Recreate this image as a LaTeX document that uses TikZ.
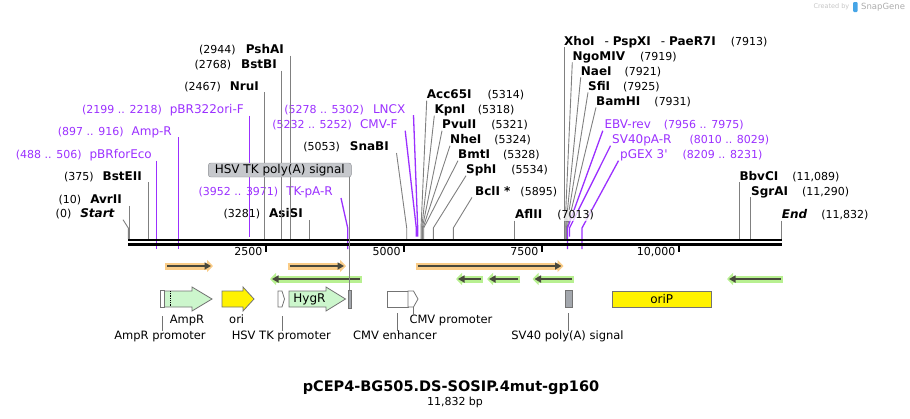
\documentclass[tikz,border=0pt]{standalone}
\usepackage{fontspec}
\setmainfont{DejaVu Sans}
\usetikzlibrary{positioning, calc, arrows.meta}

\definecolor{cPrimer}{RGB}{155,48,255}
\definecolor{cCut}{RGB}{128,128,128}
\definecolor{cFeat}{RGB}{115,115,115}
\definecolor{cGreen}{RGB}{204,246,204}
\definecolor{cTK}{RGB}{198,200,204}
\definecolor{cTKline}{RGB}{140,143,148}
\definecolor{cPolyA}{RGB}{163,167,173}
\definecolor{cOrfF}{RGB}{250,204,135}
\definecolor{cOrfR}{RGB}{184,240,145}
\definecolor{cOrfDark}{RGB}{72,72,60}
\definecolor{cSnap}{RGB}{70,165,230}

\newcommand{\nb}[1]{{\fontsize{11}{13}\selectfont(#1)}}

\tikzset{
  lab/.style={inner sep=0pt, text height=9pt, text depth=2pt},
  plab/.style={lab, text=cPrimer},
  cut/.style={draw=cCut, line width=0.9pt},
  pcut/.style={draw=cPrimer, line width=1.3pt},
  feat/.style={draw=cFeat, line width=0.8pt},
  flab/.style={inner sep=0pt, text height=8.5pt, text depth=2pt, font=\fontsize{11.5}{13}\selectfont},
  orf/.style={draw=cOrfDark, line width=2pt, -{Triangle[length=6.5pt,width=7pt]}},
  orff/.style={orf, preaction={draw=cOrfF, line width=7pt, -{Triangle[length=6pt,width=12pt]}, shorten >=-2pt, shorten <=-2pt}},
  orfr/.style={orf, preaction={draw=cOrfR, line width=7pt, -{Triangle[length=6pt,width=12pt]}, shorten >=-2pt, shorten <=-2pt}}
}

\begin{document}
\begin{tikzpicture}[x=1pt, y=-1pt, font=\fontsize{12}{14}\selectfont]
\useasboundingbox (0,0) rectangle (910,418);

\node[anchor=east, inner sep=0pt, text=gray!45, font=\fontsize{6.5}{8}\selectfont] (made) at (849.5,7) {Created by};
\fill[cSnap, rounded corners=1pt] (853,2) rectangle (857.5,12);
\node[anchor=west, inner sep=0pt, text=gray!65, font=\fontsize{8.5}{10}\selectfont] (snap) at (861,7) {SnapGene};

\node[lab, anchor=east] (Start) at (115,214) {\nb{0}\hspace{9pt}\textbf{\textit{Start}}};
\node[lab, anchor=east] (AvrII) at (122,200) {\nb{10}\hspace{9pt}\textbf{AvrII}};
\node[lab, anchor=east] (BstEII) at (142,176.7) {\nb{375}\hspace{9pt}\textbf{BstEII}};
\node[plab, anchor=east] (pBRforEco) at (152,155) {\nb{488 .. 506}\hspace{8pt}pBRforEco};
\node[plab, anchor=east] (AmpRp) at (172,131.7) {\nb{897 .. 916}\hspace{8pt}Amp-R};
\node[plab, anchor=east] (oriF) at (244,110) {\nb{2199 .. 2218}\hspace{8pt}pBR322ori-F};
\node[lab, anchor=east] (NruI) at (259,86.7) {\nb{2467}\hspace{9pt}\textbf{NruI}};
\node[lab, anchor=east] (BstBI) at (277,65) {\nb{2768}\hspace{10pt}\textbf{BstBI}};
\node[lab, anchor=east] (PshAI) at (284,50) {\nb{2944}\hspace{10pt}\textbf{PshAI}};
\node[plab, anchor=east] (TKpAR) at (333,192.3) {\nb{3952 .. 3971}\hspace{8pt}TK-pA-R};
\node[lab, anchor=east] (AsiSI) at (303,214.3) {\nb{3281}\hspace{9pt}\textbf{AsiSI}};
\node[lab, anchor=east] (SnaBI) at (389,147.3) {\nb{5053}\hspace{10pt}\textbf{SnaBI}};
\node[plab, anchor=east] (LNCX) at (405.5,109.5) {\nb{5278 .. 5302}\hspace{9pt}LNCX};
\node[plab, anchor=east] (CMVF) at (397.7,125) {\nb{5232 .. 5252}\hspace{8pt}CMV-F};

\node[lab, anchor=west] (Acc65I) at (426.7,95) {\textbf{Acc65I}\hspace{16pt}\nb{5314}};
\node[lab, anchor=west] (KpnI) at (434.3,110) {\textbf{KpnI}\hspace{12.5pt}\nb{5318}};
\node[lab, anchor=west] (PvuII) at (442,125) {\textbf{PvuII}\hspace{15pt}\nb{5321}};
\node[lab, anchor=west] (NheI) at (450,140) {\textbf{NheI}\hspace{13pt}\nb{5324}};
\node[lab, anchor=west] (BmtI) at (458,155) {\textbf{BmtI}\hspace{13pt}\nb{5328}};
\node[lab, anchor=west] (SphI) at (466,170) {\textbf{SphI}\hspace{15pt}\nb{5534}};
\node[lab, anchor=west] (BclI) at (475,191.7) {\textbf{BclI *}\hspace{10pt}\nb{5895}};
\node[lab, anchor=west] (XhoI) at (564,41.7) {\textbf{XhoI}\hspace{10pt}- \textbf{PspXI}\hspace{10pt}- \textbf{PaeR7I}\hspace{15pt}\nb{7913}};
\node[lab, anchor=west] (NgoMIV) at (572.3,56.7) {\textbf{NgoMIV}\hspace{15pt}\nb{7919}};
\node[lab, anchor=west] (NaeI) at (580.7,71.7) {\textbf{NaeI}\hspace{13pt}\nb{7921}};
\node[lab, anchor=west] (SfiI) at (588,86.7) {\textbf{SfiI}\hspace{13pt}\nb{7925}};
\node[lab, anchor=west] (BamHI) at (596,101.7) {\textbf{BamHI}\hspace{14pt}\nb{7931}};
\node[plab, anchor=west] (EBVrev) at (604.3,125) {EBV-rev\hspace{13pt}\nb{7956 .. 7975}};
\node[plab, anchor=west] (SV40pAR) at (612,140) {SV40pA-R\hspace{18pt}\nb{8010 .. 8029}};
\node[plab, anchor=west] (pGEX) at (620,155) {pGEX 3\textquotesingle\hspace{15pt}\nb{8209 .. 8231}};
\node[lab, anchor=west] (BbvCI) at (739.3,176.7) {\textbf{BbvCI}\hspace{14pt}\nb{11,089}};
\node[lab, anchor=west] (SgrAI) at (751,191.7) {\textbf{SgrAI}\hspace{14pt}\nb{11,290}};
\node[lab, anchor=west] (End) at (781.7,215) {\textbf{\textit{End}}\hspace{14pt}\nb{11,832}};

\coordinate (kn) at (0,228);
\coordinate (s-Start) at (128.3,239);
\coordinate (s-AvrII) at (129.3,239);
\coordinate (s-BstEII) at (148.5,239);
\coordinate (s-NruI) at (264.3,239);
\coordinate (s-BstBI) at (281.7,239);
\coordinate (s-PshAI) at (290.7,239);
\coordinate (s-AsiSI) at (309.3,239);
\coordinate (s-SnaBI) at (406.7,239);
\coordinate (s-Acc65I) at (421,239);
\coordinate (s-KpnI) at (421.7,239);
\coordinate (s-PvuII) at (422.3,239);
\coordinate (s-NheI) at (423,239);
\coordinate (s-BmtI) at (423.7,239);
\coordinate (s-SphI) at (433.3,239);
\coordinate (s-BclI) at (453.3,239);
\coordinate (s-AflII) at (514.3,239);
\coordinate (s-XhoI) at (564.3,239);
\coordinate (s-NgoMIV) at (565,239);
\coordinate (s-NaeI) at (565.7,239);
\coordinate (s-SfiI) at (566.3,239);
\coordinate (s-BamHI) at (567,239);
\coordinate (s-BbvCI) at (739.3,239);
\coordinate (s-SgrAI) at (750.3,239);
\coordinate (s-End) at (781.3,239);
\coordinate (p-pBRforEco) at (156.7,249);
\coordinate (p-AmpR) at (178.7,249);
\coordinate (p-oriF) at (249.3,236.5);
\coordinate (p-TKpAR) at (347.7,249);
\coordinate (p-CMVF) at (416.3,236.5);
\coordinate (p-LNCX) at (417.7,236.5);
\coordinate (p-EBVrev) at (567.5,249);
\coordinate (p-SV40pAR) at (569.5,236.5);
\coordinate (p-pGEX) at (582,249);

\draw[cut] ([xshift=8pt]Start.south east) -- (s-Start |- kn) -- (s-Start);
\draw[cut] (s-AvrII |- AvrII.south) -- (s-AvrII);
\draw[cut] (s-BstEII |- BstEII.south) -- (s-BstEII);
\draw[cut] (s-NruI |- NruI.south) -- (s-NruI);
\draw[cut] (s-BstBI |- BstBI.south) -- (s-BstBI);
\draw[cut] (s-PshAI |- PshAI.south) -- (s-PshAI);
\draw[cut] (s-AsiSI |- AsiSI.south) -- (s-AsiSI);
\draw[cut] ([xshift=7.5pt]SnaBI.south east) -- (s-SnaBI |- kn) -- (s-SnaBI);
\draw[cut] (Acc65I.south west) -- (s-Acc65I |- kn) -- (s-Acc65I);
\draw[cut] (KpnI.south west) -- (s-KpnI |- kn) -- (s-KpnI);
\draw[cut] (PvuII.south west) -- (s-PvuII |- kn) -- (s-PvuII);
\draw[cut] (NheI.south west) -- (s-NheI |- kn) -- (s-NheI);
\draw[cut] (BmtI.south west) -- (s-BmtI |- kn) -- (s-BmtI);
\draw[cut] (SphI.south west) -- (s-SphI |- kn) -- (s-SphI);
\draw[cut] ([xshift=-3pt]BclI.south west) -- (s-BclI |- kn) -- (s-BclI);
\draw[cut] (s-XhoI |- XhoI.south) -- (s-XhoI);
\draw[cut] (NgoMIV.south west) -- (s-NgoMIV |- kn) -- (s-NgoMIV);
\draw[cut] (NaeI.south west) -- (s-NaeI |- kn) -- (s-NaeI);
\draw[cut] (SfiI.south west) -- (s-SfiI |- kn) -- (s-SfiI);
\draw[cut] (BamHI.south west) -- (s-BamHI |- kn) -- (s-BamHI);
\draw[cut] (s-BbvCI |- BbvCI.south) -- (s-BbvCI);
\draw[cut] (s-SgrAI |- SgrAI.south) -- (s-SgrAI);
\draw[cut] (s-End |- End.south) -- (s-End);

\draw[pcut] (p-pBRforEco |- pBRforEco.south) -- (p-pBRforEco);
\draw[pcut] (p-AmpR |- AmpRp.south) -- (p-AmpR);
\draw[pcut] (p-oriF |- oriF.south) -- (p-oriF);
\draw[pcut] ([xshift=8pt]TKpAR.south east) -- (p-TKpAR |- kn) -- (p-TKpAR);
\draw[pcut] ([xshift=7.5pt]CMVF.south east) -- (p-CMVF |- kn) -- (p-CMVF);
\draw[pcut] ([xshift=8pt]LNCX.south east) -- (p-LNCX |- kn) -- (p-LNCX);
\draw[pcut] ([xshift=-1.5pt]EBVrev.south west) -- (p-EBVrev |- kn) -- (p-EBVrev);
\draw[pcut] ([xshift=-1.5pt]SV40pAR.south west) -- (p-SV40pAR |- kn) -- (p-SV40pAR);
\draw[pcut] ([xshift=-1.5pt]pGEX.south west) -- (p-pGEX |- kn) -- (p-pGEX);

\node[draw=cTKline, fill=cTK, rounded corners=2.5pt, inner sep=0pt, minimum width=143pt, minimum height=14pt] (tkpa) at (279.8,170) {HSV TK poly(A) signal};

\draw[line width=2.8pt] (128.3,240) -- (781.7,240);
\draw[line width=2.8pt] (128.3,244.5) -- (781.7,244.5);

\draw[line width=2pt] (265.7,245) -- (265.7,251.5);
\draw[line width=2pt] (404,245) -- (404,251.5);
\draw[line width=2pt] (541.7,245) -- (541.7,251.5);
\draw[line width=2pt] (678.7,245) -- (678.7,251.5);
\node[lab, anchor=east, font=\fontsize{11}{13}\selectfont] (t1) at (262.5,252) {2500};
\node[lab, anchor=east, font=\fontsize{11}{13}\selectfont] (t2) at (400.8,252) {5000};
\node[lab, anchor=east, font=\fontsize{11}{13}\selectfont] (t3) at (538.5,252) {7500};
\node[lab, anchor=east, font=\fontsize{11}{13}\selectfont] (t4) at (675.5,252) {10,000};

\draw[orff] (167,266) -- (211,266);
\draw[orff] (289.5,266) -- (344,266);
\draw[orff] (417.5,266) -- (561.5,266);
\draw[orfr] (359.5,279) -- (272,279);
\draw[orfr] (480.5,279) -- (458,279);
\draw[orfr] (518,279) -- (489,279);
\draw[orfr] (571.5,279) -- (534.5,279);
\draw[orfr] (780.5,279) -- (729,279);

\draw[feat, fill=white] (160,290.5) rectangle (164.5,307.5);
\draw[feat, fill=cGreen] (164.5,291) -- (192,291) -- (192,287) -- (212,299) -- (192,311) -- (192,307) -- (164.5,307) -- cycle;
\draw[densely dotted, line width=0.8pt] (170.7,291) -- (170.7,307);
\draw[feat, fill=yellow] (222,291) -- (243,291) -- (243,287) -- (254,299) -- (243,311) -- (243,307) -- (222,307) -- cycle;
\draw[feat, fill=white] (278,291) -- (282,291) -- (284.5,299) -- (282,307) -- (278,307) -- cycle;
\draw[feat, fill=cGreen] (289,291) -- (326,291) -- (326,287) -- (345.5,299) -- (326,311) -- (326,307) -- (289,307) -- cycle;
\node[inner sep=0pt] (hyg) at (309.5,299) {HygR};
\draw[feat, fill=cPolyA] (348,290) rectangle (351.5,308);
\draw[feat, fill=white] (387.5,291) rectangle (408,307);
\draw[feat, fill=white] (408,291) -- (413.5,291) -- (418,299) -- (413.5,307) -- (408,307) -- cycle;
\draw[feat, fill=cPolyA] (565,290.5) rectangle (572.7,307.5);
\node[draw=cFeat, line width=0.8pt, fill=yellow, inner sep=0pt, minimum width=99.7pt, minimum height=16pt] (oriP) at (661.8,299) {oriP};

\node[flab] (lAmpR) at (187,320) {AmpR};
\node[flab] (lori) at (236.7,320) {ori};
\node[flab] (lAmpP) at (160,336.7) {AmpR promoter};
\node[flab] (lHSVP) at (281.3,336.7) {HSV TK promoter};
\node[flab] (lCMVe) at (395,336.7) {CMV enhancer};
\node[flab, anchor=west] (lCMVp) at (409.3,320) {CMV promoter};
\node[flab] (lSV40) at (567.5,336.7) {SV40 poly(A) signal};

\coordinate (fAmpP) at (162.3,316);
\coordinate (fHSVP) at (282.7,316);
\coordinate (fCMVe) at (397.3,313);
\coordinate (fCMVp) at (413.7,307);
\coordinate (fSV40) at (568.7,313);
\coordinate (fTKpA) at (349.3,290);
\draw[feat] (fAmpP) -- (fAmpP |- lAmpP.north);
\draw[feat] (fHSVP) -- (fHSVP |- lHSVP.north);
\draw[feat] (fCMVe) -- (fCMVe |- lCMVe.north);
\draw[feat] (fCMVp) -- (fCMVp |- lCMVp.north);
\draw[feat] (fSV40) -- (fSV40 |- lSV40.north);
\draw[cut] (fTKpA) -- (fTKpA |- tkpa.south);

\node[lab, anchor=west, fill=white, fill opacity=0.75, text opacity=1] (AflII) at (515,215) {\textbf{AflII}\hspace{15pt}\nb{7013}};
\draw[cut] (s-AflII |- AflII.south) -- (s-AflII);

\node[font=\bfseries\fontsize{14.5}{17}\selectfont, inner sep=0pt] (title) at (451,388) {pCEP4-BG505.DS-SOSIP.4mut-gp160};
\node[font=\fontsize{11}{13}\selectfont, inner sep=0pt] (size) at (455,402.5) {11,832 bp};
\end{tikzpicture}
\end{document}
